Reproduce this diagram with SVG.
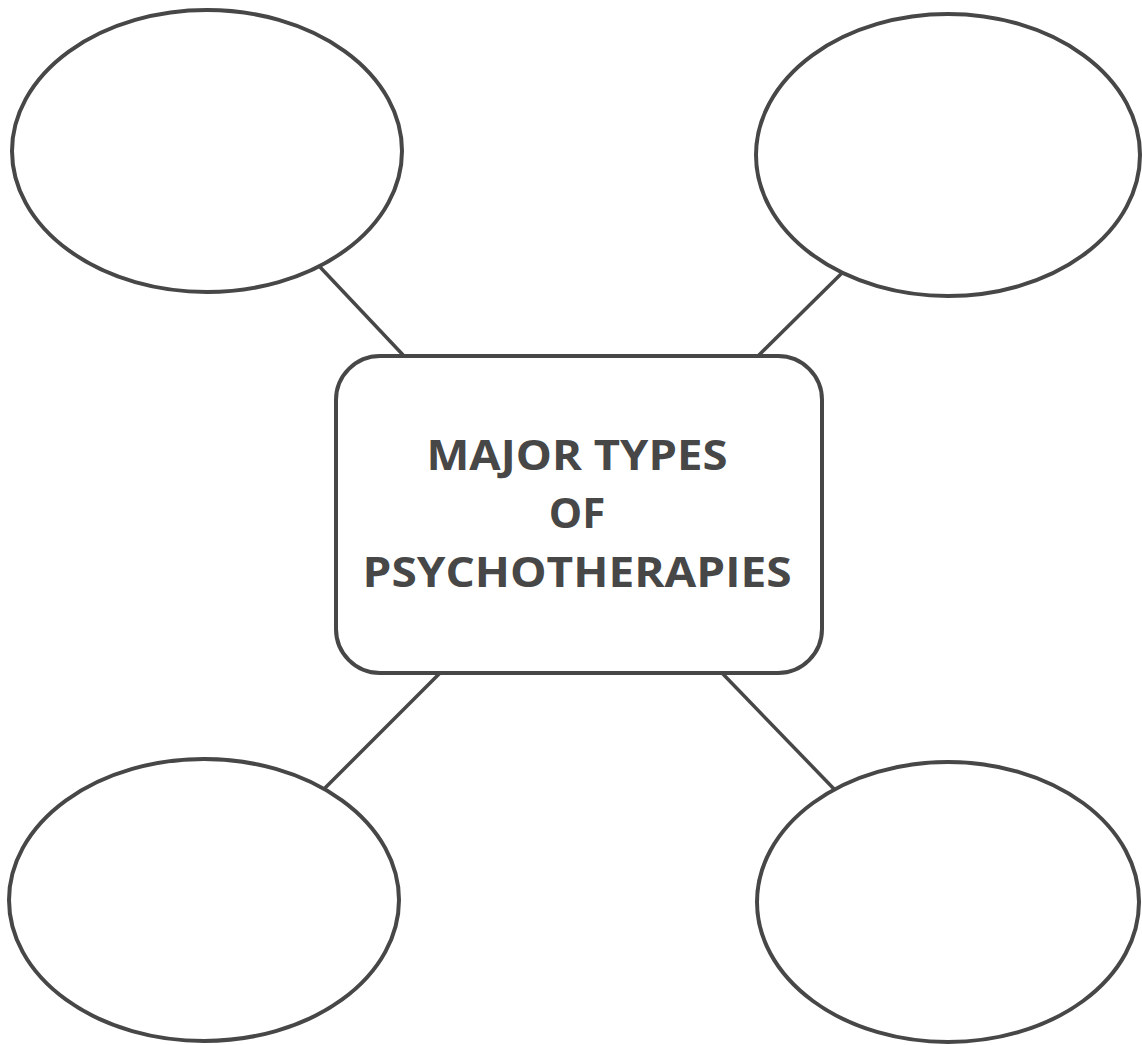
<svg xmlns="http://www.w3.org/2000/svg" width="1142" height="1045" viewBox="0 0 1142 1045">
<style>
.n{fill:none;stroke:#474747;stroke-width:4}
.c{stroke:#474747;stroke-width:3.5;fill:none}
.t{font-family:"Open Sans","Liberation Sans",Arial,sans-serif;font-weight:bold;font-size:42px;fill:#474747;text-anchor:middle}
</style>
<rect width="1142" height="1045" fill="#fff"/>
<g id="connectors">
<line class="c" x1="320" y1="267" x2="404" y2="356"/>
<line class="c" x1="842" y1="273" x2="758" y2="356"/>
<line class="c" x1="325" y1="788" x2="440" y2="673"/>
<line class="c" x1="835" y1="790" x2="722" y2="673"/>
</g>
<g id="node-top-left"><ellipse class="n" cx="207" cy="151" rx="195" ry="141"/></g>
<g id="node-top-right"><ellipse class="n" cx="948" cy="155" rx="192" ry="141"/></g>
<g id="node-bottom-left"><ellipse class="n" cx="204" cy="900" rx="195" ry="141"/></g>
<g id="node-bottom-right"><ellipse class="n" cx="948" cy="902" rx="191" ry="140"/></g>
<g id="node-center">
<rect class="n" x="336" y="356" width="486" height="317" rx="44" ry="44"/>
<text class="t" x="577" y="470" textLength="301" lengthAdjust="spacingAndGlyphs">MAJOR TYPES</text>
<text class="t" x="577" y="528">OF</text>
<text class="t" x="577" y="587" textLength="429" lengthAdjust="spacingAndGlyphs">PSYCHOTHERAPIES</text>
</g>
</svg>
